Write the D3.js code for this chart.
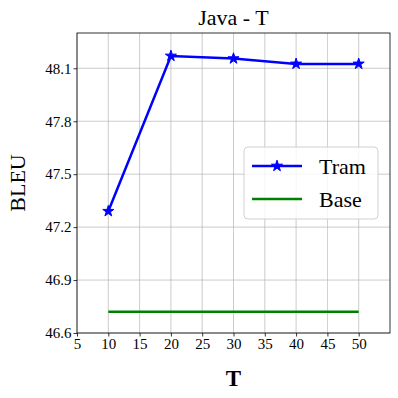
<!DOCTYPE html>
<html>
<head>
<meta charset="utf-8">
<script src="https://cdn.jsdelivr.net/npm/d3@7"></script>
<style>
  body { margin: 0; background: #fff; }
  text { font-family: "Liberation Serif", "Times New Roman", serif; }
</style>
</head>
<body>
<div id="chart"></div>
<script>
// data
const tValues = [10, 20, 30, 40, 50];
const tramValues = [47.29, 48.17, 48.155, 48.125, 48.125];
const baseValues = [46.72, 46.72, 46.72, 46.72, 46.72];
const xTicks = [5, 10, 15, 20, 25, 30, 35, 40, 45, 50];
const yTicks = [46.6, 46.9, 47.2, 47.5, 47.8, 48.1];

const width = 398;
const height = 398;
const margin = { top: 33, right: 8, bottom: 65, left: 77 };
const serif = '"Liberation Serif", "Times New Roman", serif';

const svg = d3.select('#chart')
              .append('svg')
              .attr('width', width)
              .attr('height', height);

const x = d3.scaleLinear().domain([5, 55]).range([margin.left, width - margin.right]);
const y = d3.scaleLinear().domain([46.6, 48.3]).range([height - margin.bottom, margin.top]);

// grid
svg.append('g')
   .selectAll('line')
   .data(xTicks)
   .enter()
   .append('line')
   .attr('x1', (d) => x(d)).attr('x2', (d) => x(d))
   .attr('y1', y.range()[0]).attr('y2', y.range()[1])
   .attr('stroke', '#b0b0b0').attr('stroke-width', 0.8).attr('opacity', 0.8);

svg.append('g')
   .selectAll('line')
   .data(yTicks)
   .enter()
   .append('line')
   .attr('x1', x.range()[0]).attr('x2', x.range()[1])
   .attr('y1', (d) => y(d)).attr('y2', (d) => y(d))
   .attr('stroke', '#b0b0b0').attr('stroke-width', 0.8).attr('opacity', 0.8);

// axes
const xAxis = svg.append('g')
                 .attr('transform', `translate(0, ${y.range()[0]})`)
                 .call(d3.axisBottom(x).tickValues(xTicks).tickSize(3.5).tickPadding(2));
const yAxis = svg.append('g')
                 .attr('transform', `translate(${x.range()[0]}, 0)`)
                 .call(d3.axisLeft(y).tickValues(yTicks).tickFormat(d3.format('.1f')).tickSize(3.5).tickPadding(2));

[xAxis, yAxis].forEach((ax) => {
    ax.attr('font-family', serif).attr('font-size', 15);
    ax.select('.domain').remove();
    ax.selectAll('text').attr('fill', '#000');
    ax.selectAll('line').attr('stroke', '#000').attr('stroke-width', 0.8);
});

// frame
svg.append('rect')
   .attr('x', x.range()[0]).attr('y', y.range()[1])
   .attr('width', x.range()[1] - x.range()[0])
   .attr('height', y.range()[0] - y.range()[1])
   .attr('fill', 'none').attr('stroke', '#000').attr('stroke-width', 0.8);

// lines
const line = d3.line().x((d) => x(d[0])).y((d) => y(d[1]));
const tramPts = tValues.map((t, i) => [t, tramValues[i]]);
const basePts = tValues.map((t, i) => [t, baseValues[i]]);

svg.append('path')
   .attr('d', line(basePts))
   .attr('fill', 'none').attr('stroke', 'green').attr('stroke-width', 2.5);

svg.append('path')
   .attr('d', line(tramPts))
   .attr('fill', 'none').attr('stroke', 'blue').attr('stroke-width', 2.5);

const star = d3.symbol().type(d3.symbolStar).size(38);
svg.append('g')
   .selectAll('path')
   .data(tramPts)
   .enter()
   .append('path')
   .attr('d', star)
   .attr('transform', (d) => `translate(${x(d[0])}, ${y(d[1])})`)
   .attr('fill', 'blue').attr('stroke', 'blue').attr('stroke-width', 1);

// title and labels
svg.append('text')
   .attr('x', (x.range()[0] + x.range()[1]) / 2).attr('y', 25)
   .attr('text-anchor', 'middle').attr('font-size', 22)
   .text('Java - T');

svg.append('text')
   .attr('x', (x.range()[0] + x.range()[1]) / 2).attr('y', 386)
   .attr('text-anchor', 'middle').attr('font-size', 23).attr('font-weight', 'bold')
   .text('T');

svg.append('text')
   .attr('transform', `translate(25, ${(y.range()[0] + y.range()[1]) / 2}) rotate(-90)`)
   .attr('text-anchor', 'middle').attr('font-size', 22)
   .text('BLEU');

// legend
const legend = svg.append('g').attr('transform', 'translate(244, 147)');
legend.append('rect')
      .attr('width', 134).attr('height', 72).attr('rx', 4)
      .attr('fill', '#fff').attr('fill-opacity', 0.8)
      .attr('stroke', '#d0d0d0').attr('stroke-width', 1);

const legendItems = [
    { name: 'Tram', color: 'blue', marker: true },
    { name: 'Base', color: 'green', marker: false }
];
legendItems.forEach((item, i) => {
    const gy = 19 + i * 33;
    legend.append('line')
          .attr('x1', 8).attr('x2', 58).attr('y1', gy).attr('y2', gy)
          .attr('stroke', item.color).attr('stroke-width', 2.5);
    if (item.marker) {
        legend.append('path')
              .attr('d', star)
              .attr('transform', `translate(33, ${gy})`)
              .attr('fill', item.color).attr('stroke', item.color).attr('stroke-width', 1);
    }
    legend.append('text')
          .attr('x', 75).attr('y', gy + 8)
          .attr('font-size', 22)
          .text(item.name);
});
</script>
</body>
</html>
